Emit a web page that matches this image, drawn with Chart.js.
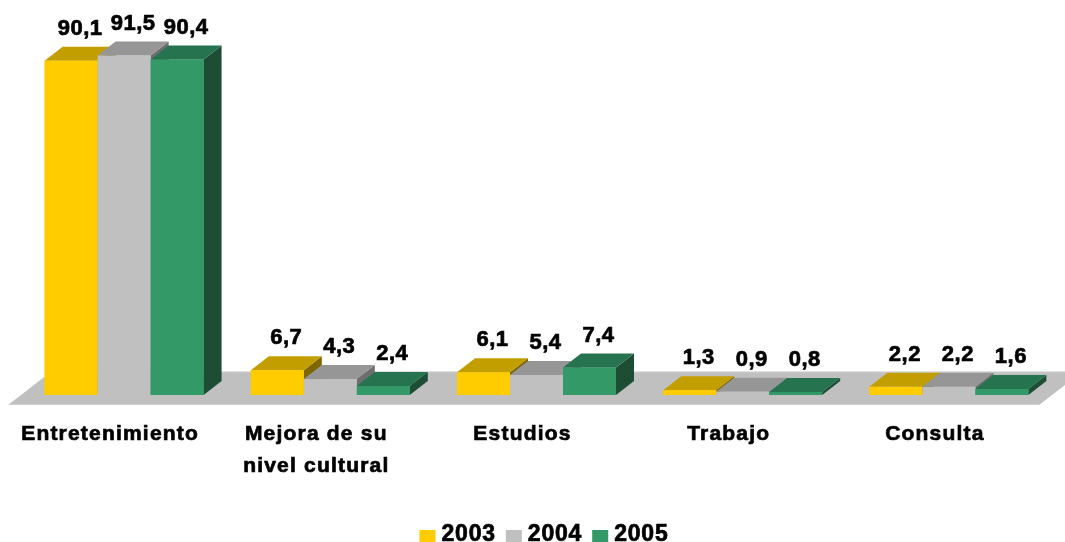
<!DOCTYPE html>
<html>
<head>
<meta charset="utf-8">
<script src="https://cdn.jsdelivr.net/npm/chart.js@4.4.1/dist/chart.umd.min.js"></script>
<style>
  html, body { margin: 0; padding: 0; background: #ffffff; }
  #wrap { width: 1065px; height: 542px; position: relative; }
</style>
</head>
<body>
<div id="wrap"><canvas id="c"></canvas></div>
<script>
// ---- data ----
const categories = [["Entretenimiento"], ["Mejora de su", "nivel cultural"], ["Estudios"], ["Trabajo"], ["Consulta"]];
const years = ["2003", "2004", "2005"];
const values2003 = [90.1, 6.7, 6.1, 1.3, 2.2];
const values2004 = [91.5, 4.3, 5.4, 0.9, 2.2];
const values2005 = [90.4, 2.4, 7.4, 0.8, 1.6];

// ---- styles ----
const frontColors = ["#FFCC00", "#C0C0C0", "#339966"];
const topColors   = ["#C29E00", "#969696", "#267350"];
const sideColors  = ["#7F6600", "#6E6E6E", "#1D4D35"];
const DX = 18, DY = -14;       // 3D depth vector
const FONT = "'Liberation Sans', Arial, sans-serif";

function fmt(v) { return v.toFixed(1).replace('.', ','); }

function boldText(ctx, t, x, y) {
  ctx.fillText(t, x, y);
  ctx.strokeText(t, x, y);
}

const threeD = {
  id: 'threeD',
  beforeDatasetsDraw(chart) {
    const ctx = chart.ctx;
    const a = chart.chartArea;
    const y0 = chart.scales.y.getPixelForValue(0);
    const f = 0.7, b = 1.7;
    ctx.save();
    ctx.fillStyle = "#C0C0C0";
    ctx.beginPath();
    ctx.moveTo(a.left - f * DX, y0 - f * DY);
    ctx.lineTo(a.right - f * DX, y0 - f * DY);
    ctx.lineTo(a.right + b * DX, y0 + b * DY);
    ctx.lineTo(a.left + b * DX, y0 + b * DY);
    ctx.closePath();
    ctx.fill();
    ctx.strokeStyle = "#E6E6E6";
    ctx.lineWidth = 1;
    ctx.beginPath();
    ctx.moveTo(a.left + b * DX, y0 + b * DY + 0.5);
    ctx.lineTo(a.right + b * DX, y0 + b * DY + 0.5);
    ctx.stroke();
    ctx.restore();
  },
  afterDatasetsDraw(chart) {
    const ctx = chart.ctx;
    const n = chart.data.labels.length;
    const metas = chart.data.datasets.map((d, i) => chart.getDatasetMeta(i));
    ctx.save();
    for (let i = 0; i < n; i++) {
      metas.forEach((meta, d) => {
        const el = meta.data[i];
        const p = el.getProps(['x', 'y', 'base', 'width'], true);
        const L = p.x - p.width / 2, R = p.x + p.width / 2;
        const T = p.y, B = p.base;
        // side
        ctx.fillStyle = sideColors[d];
        ctx.beginPath();
        ctx.moveTo(R, B); ctx.lineTo(R, T); ctx.lineTo(R + DX, T + DY); ctx.lineTo(R + DX, B + DY);
        ctx.closePath(); ctx.fill();
        // top
        ctx.fillStyle = topColors[d];
        ctx.beginPath();
        ctx.moveTo(L, T); ctx.lineTo(R, T); ctx.lineTo(R + DX, T + DY); ctx.lineTo(L + DX, T + DY);
        ctx.closePath(); ctx.fill();
        // front
        ctx.fillStyle = frontColors[d];
        ctx.fillRect(L, T, R - L, B - T);
      });
    }
    // value labels
    ctx.fillStyle = "#000000";
    ctx.strokeStyle = "#000000";
    ctx.lineWidth = 0.7;
    ctx.font = "bold 22px " + FONT;
    ctx.textAlign = "center";
    ctx.textBaseline = "middle";
    if ('letterSpacing' in ctx) ctx.letterSpacing = "0.5px";
    for (let i = 0; i < n; i++) {
      metas.forEach((meta, d) => {
        const el = meta.data[i];
        const p = el.getProps(['x', 'y'], true);
        const v = chart.data.datasets[d].data[i];
        boldText(ctx, fmt(v), p.x + DX / 2, p.y - 32);
      });
    }
    ctx.restore();
  },
  afterDraw(chart) {
    const ctx = chart.ctx;
    const xs = chart.scales.x;
    ctx.save();
    ctx.fillStyle = "#000000";
    ctx.strokeStyle = "#000000";
    ctx.lineWidth = 0.7;
    ctx.font = "bold 21px " + FONT;
    ctx.textAlign = "center";
    ctx.textBaseline = "middle";
    if ('letterSpacing' in ctx) ctx.letterSpacing = "1.2px";
    chart.data.labels.forEach((lab, i) => {
      const cx = xs.getPixelForValue(i) - 14;
      const lines = Array.isArray(lab) ? lab : [lab];
      lines.forEach((t, k) => boldText(ctx, t, cx, 434 + k * 32));
    });
    // legend
    if ('letterSpacing' in ctx) ctx.letterSpacing = "0.8px";
    ctx.font = "bold 23px " + FONT;
    ctx.textAlign = "left";
    const widths = chart.data.datasets.map(ds => ctx.measureText(ds.label).width);
    const box = 16, gapBox = 6, gapItem = 10;
    let total = 0;
    widths.forEach(w => total += box + gapBox + w);
    total += gapItem * (widths.length - 1);
    let x = 544 - total / 2;
    const ly = 535;
    chart.data.datasets.forEach((ds, d) => {
      ctx.fillStyle = frontColors[d];
      ctx.fillRect(x, ly - 5, box, 13);
      ctx.fillStyle = "#000000";
      boldText(ctx, ds.label, x + box + gapBox, ly);
      x += box + gapBox + widths[d] + gapItem;
    });
    ctx.restore();
  }
};

new Chart(document.getElementById('c'), {
  type: 'bar',
  data: {
    labels: categories,
    datasets: [
      { label: years[0], data: values2003, backgroundColor: frontColors[0] },
      { label: years[1], data: values2004, backgroundColor: frontColors[1] },
      { label: years[2], data: values2005, backgroundColor: frontColors[2] }
    ]
  },
  options: {
    responsive: true,
    maintainAspectRatio: false,
    animation: false,
    layout: { padding: { top: 24, bottom: 147, left: 21, right: 13 } },
    datasets: { bar: { barPercentage: 1.0, categoryPercentage: 0.771 } },
    scales: {
      x: { display: false },
      y: { display: false, min: 0, max: 100 }
    },
    plugins: { legend: { display: false }, tooltip: { enabled: false } }
  },
  plugins: [threeD]
});
</script>
</body>
</html>
